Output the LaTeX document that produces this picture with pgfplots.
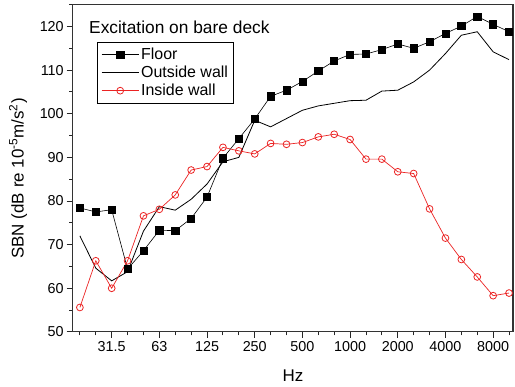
\documentclass[border=0pt]{standalone}
\usepackage{pgfplots}
\pgfplotsset{compat=1.18}
\usepackage{fontspec}
\setmainfont{Liberation Sans}
\definecolor{myred}{RGB}{235,35,35}
\begin{document}
\begin{tikzpicture}
\begin{axis}[
  scale only axis,
  width=440bp, height=327bp,
  xmin=-0.45, xmax=27.25,
  ymin=50, ymax=125,
  axis line style={black!80, line width=1.2bp},
  tick style={black!85, line width=0.9bp},
  tick align=outside,
  xtick pos=bottom, ytick pos=left,
  major tick length=6bp, minor tick length=3.5bp,
  xtick={2,5,8,11,14,17,20,23,26},
  xticklabels={31.5,63,125,250,500,1000,2000,4000,8000},
  minor xtick={0,1,3,4,6,7,9,10,12,13,15,16,18,19,21,22,24,25,27},
  ytick={50,60,...,120},
  minor ytick={55,65,...,125},
  /pgf/number format/assume math mode=true,
  tick label style={font=\fontsize{14.4}{16}\selectfont},
  xticklabel style={yshift=-0.5bp},
  yticklabel style={xshift=0.5bp},
  label style={font=\fontsize{17}{20}\selectfont},
  xlabel={Hz},
  xlabel style={at={(axis description cs:0.5,-0.135)}, anchor=center},
  ylabel={SBN (dB re 10\textsuperscript{-5}m/s\textsuperscript{2})},
  ylabel style={at={(axis description cs:-0.124,0.469)}, anchor=center},
  legend style={at={(rel axis cs:0.056,0.887)}, anchor=north west,
    draw=black, line width=0.8bp, fill=white,
    font=\fontsize{16}{18}\selectfont,
    row sep=1bp, inner xsep=3.5bp, inner ysep=4bp},
  legend cell align=left,
  legend image code/.code={\draw[mark repeat=2,mark phase=2,#1] plot coordinates {(0bp,0bp) (18.5bp,0bp) (37bp,0bp)};},
]
\addplot[black, line width=0.6bp, mark=square*, mark size=3.6bp, mark options={solid, fill=black}] coordinates {
(0,78.4) (1,77.5) (2,78.0) (3,64.4) (4,68.6) (5,73.3) (6,73.2) (7,76.0) (8,80.9) (9,89.8)
(10,94.3) (11,98.8) (12,104.0) (13,105.4) (14,107.4) (15,109.8) (16,112.1) (17,113.6) (18,113.7) (19,114.7)
(20,116.0) (21,115.0) (22,116.5) (23,118.4) (24,120.1) (25,122.3) (26,120.5) (27,118.8)};
\addlegendentry{Floor}
\addplot[black, line width=0.8bp, mark=none] coordinates {
(0,72.0) (1,64.6) (2,61.7) (3,63.8) (4,73.1) (5,78.7) (6,77.9) (7,80.4) (8,83.9) (9,89.0)
(10,90.0) (11,98.5) (12,97.0) (13,98.9) (14,100.8) (15,101.8) (16,102.4) (17,103.0) (18,103.1) (19,105.2)
(20,105.4) (21,107.3) (22,110.0) (23,113.8) (24,118.0) (25,118.8) (26,114.2) (27,112.4)};
\addlegendentry{Outside wall}
\addplot[myred, line width=0.7bp, mark=o, mark size=3.4bp, mark options={solid, fill=white, line width=0.8bp}] coordinates {
(0,55.6) (1,66.3) (2,60.0) (3,66.3) (4,76.6) (5,78.1) (6,81.4) (7,87.1) (8,87.9) (9,92.3)
(10,91.5) (11,90.8) (12,93.2) (13,93.0) (14,93.4) (15,94.7) (16,95.3) (17,94.1) (18,89.6) (19,89.6)
(20,86.7) (21,86.3) (22,78.2) (23,71.5) (24,66.6) (25,62.6) (26,58.3) (27,58.9)};
\addlegendentry{Inside wall}
\node[anchor=west, font=\fontsize{17.4}{20}\selectfont, inner sep=0pt] at (rel axis cs:0.037,0.932) {Excitation on bare deck};
\end{axis}
\pgfresetboundingbox
\path ([xshift=-72.7bp,yshift=-55bp]current axis.south west) rectangle ([xshift=2bp,yshift=4.7bp]current axis.north east);
\end{tikzpicture}
\end{document}
